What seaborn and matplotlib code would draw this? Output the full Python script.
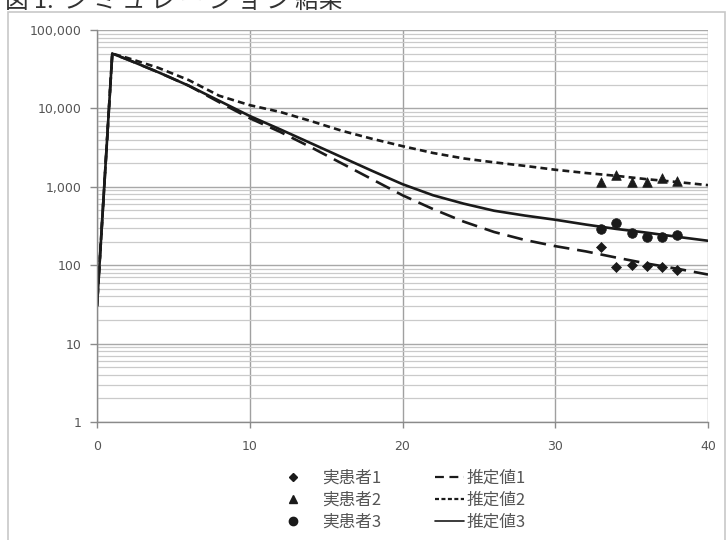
import numpy as np
import pandas as pd
import matplotlib
matplotlib.use("Agg")
import matplotlib.pyplot as plt
import matplotlib.ticker as mticker
from matplotlib.patches import Rectangle
from matplotlib.lines import Line2D
import seaborn as sns

# ---- data -------------------------------------------------------------
# simulated (estimated) curves
est_days = [0, 1, 2, 4, 6, 8, 10, 12, 14, 16, 18, 20, 22, 24, 26, 28, 30, 32, 34, 36, 38, 40]
est1 = [30, 50000, 42000, 29000, 19500, 12000, 7500, 5000, 3200, 2000, 1250, 780,
        520, 360, 265, 210, 175, 150, 125, 105, 90, 76]
est2 = [30, 50000, 44000, 33000, 23000, 14500, 11000, 9000, 6900, 5200, 4100, 3300,
        2700, 2300, 2050, 1850, 1650, 1500, 1380, 1250, 1150, 1050]
est3 = [30, 50000, 42000, 29000, 19500, 12500, 8000, 5400, 3600, 2400, 1600, 1080,
        780, 610, 495, 430, 380, 330, 290, 260, 230, 205]

# measured patients
obs_days = [33, 34, 35, 36, 37, 38]
pat1 = [170, 96, 100, 98, 96, 88]
pat2 = [1150, 1400, 1150, 1150, 1300, 1200]
pat3 = [290, 350, 260, 230, 232, 243]

x_ticks = [0, 10, 20, 30, 40]
y_ticks = [1, 10, 100, 1000, 10000, 100000]
y_tick_labels = ["1", "10", "100", "1,000", "10,000", "100,000"]

est_names = ["推定値1", "推定値2", "推定値3"]
pat_names = ["実患者1", "実患者2", "実患者3"]
title_text = "図 1.  シ ミ ュ レ ー シ ョ ン 結果"

# ---- tables -----------------------------------------------------------
est_df = pd.DataFrame({
    "day": est_days * 3,
    "value": est1 + est2 + est3,
    "series": sum([[n] * len(est_days) for n in est_names], []),
})
obs_df = pd.DataFrame({
    "day": obs_days * 3,
    "value": pat1 + pat2 + pat3,
    "series": sum([[n] * len(obs_days) for n in pat_names], []),
})

# ---- figure -----------------------------------------------------------
sns.set_theme(style="white")
plt.rcParams["font.family"] = ["Noto Sans CJK JP", "DejaVu Sans"]

fig = plt.figure(figsize=(7.27, 5.40), dpi=100)
ax = fig.add_axes([97 / 727, 1 - 422 / 540, (708 - 97) / 727, (422 - 30) / 540])

ink = "#1a1a1a"
dash_styles = {"推定値1": (0, (6, 3)), "推定値2": (0, (2.6, 1.6)), "推定値3": "-"}

for name in est_names:
    sub = est_df[est_df["series"] == name]
    sns.lineplot(data=sub, x="day", y="value", ax=ax, color=ink, lw=1.9,
                 estimator=None, sort=False, legend=False)
    ax.lines[-1].set_linestyle(dash_styles[name])

markers = {"実患者1": "D", "実患者2": "^", "実患者3": "o"}
sizes = {"実患者1": 26, "実患者2": 48, "実患者3": 48}
for name in pat_names:
    sub = obs_df[obs_df["series"] == name]
    sns.scatterplot(data=sub, x="day", y="value", ax=ax, color=ink,
                    marker=markers[name], s=sizes[name], edgecolor=ink,
                    linewidth=0.5, legend=False, zorder=5)

ax.set_yscale("log")
ax.set_xlim(0, 40)
ax.set_ylim(1, 100000)
ax.set_xticks(x_ticks)
ax.set_xticklabels([str(t) for t in x_ticks])
ax.set_yticks(y_ticks)
ax.set_yticklabels(y_tick_labels)
ax.yaxis.set_minor_locator(mticker.LogLocator(base=10, subs=np.arange(2, 10)))
ax.yaxis.set_minor_formatter(mticker.NullFormatter())
ax.set_xlabel("")
ax.set_ylabel("")

ax.grid(which="major", axis="y", color="#a8a8a8", lw=1.0)
ax.grid(which="minor", axis="y", color="#cacaca", lw=0.9)
ax.grid(which="major", axis="x", color="#a0a0a0", lw=1.0)
ax.set_axisbelow(True)

for side in ["top", "right"]:
    ax.spines[side].set_visible(False)
for side in ["left", "bottom"]:
    ax.spines[side].set_color("#8a8a8a")
    ax.spines[side].set_linewidth(1.0)

ax.tick_params(axis="y", which="major", length=5, width=1, color="#8a8a8a",
               labelsize=9, labelcolor="#555555", pad=6, left=True)
ax.tick_params(axis="y", which="minor", length=0)
ax.tick_params(axis="x", which="major", length=4, width=1, color="#8a8a8a",
               labelsize=9, labelcolor="#555555", pad=9, bottom=True)
for lab in ax.get_xticklabels() + ax.get_yticklabels():
    lab.set_family("DejaVu Sans")

# legend: patient markers on the left, estimated curves on the right
marker_handles = [
    Line2D([], [], ls="none", marker="D", color=ink, ms=4.5),
    Line2D([], [], ls="none", marker="^", color=ink, ms=6),
    Line2D([], [], ls="none", marker="o", color=ink, ms=6),
]
line_handles = [
    Line2D([], [], color=ink, lw=1.6, ls=(0, (4, 2.5))),
    Line2D([], [], color=ink, lw=1.6, ls=(0, (1.8, 1.1))),
    Line2D([], [], color=ink, lw=1.2, ls="-"),
]
common = dict(loc="center left", frameon=False, fontsize=12, borderpad=0,
              borderaxespad=0, labelspacing=0.3)
leg1 = fig.legend(marker_handles, pat_names, bbox_to_anchor=(280 / 727, 0.074),
                  handlelength=1.6, handletextpad=0.95, **common)
leg2 = fig.legend(line_handles, est_names, bbox_to_anchor=(435 / 727, 0.074),
                  handlelength=1.75, handletextpad=0.15, **common)
for leg in (leg1, leg2):
    for t in leg.get_texts():
        t.set_color("#555555")

# chart frame and heading
fig.patches.append(Rectangle((8 / 727, -0.02), (725 - 8) / 727, 1.02 - 12 / 540,
                             transform=fig.transFigure, fill=False,
                             edgecolor="#c8c8c8", lw=1.2))
fig.text(5 / 727, 1 - 1 / 540, title_text, fontsize=17, color="#333333",
         ha="left", va="center")

fig.savefig("out.png", dpi=100)
